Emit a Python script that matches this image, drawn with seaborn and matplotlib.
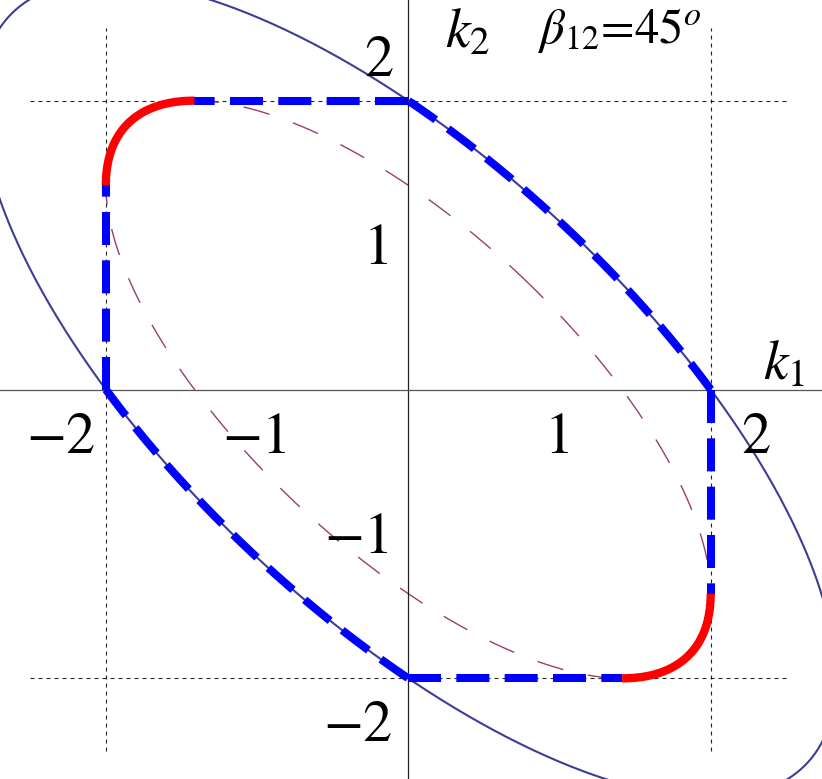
import numpy as np
import matplotlib
matplotlib.use("Agg")
import matplotlib.pyplot as plt
import seaborn as sns

# --- curve parameters ---
beta_deg = 45                      # angle beta_12 in degrees
k_max = 2.0                        # limits |k1| = |k2| = 2 (dashed guide lines)
guide_extent = 2.5                 # guide lines drawn between -2.5 and 2.5

tick_values = [-2, -1, 1, 2]
tick_labels = ["\u22122", "\u22121", "1", "2"]

c_beta = np.cos(np.radians(beta_deg))
s_beta = np.sin(np.radians(beta_deg))
r2_outer = k_max ** 2                  # k1^2 + k2^2 + 2 cos(b) k1 k2 = 4
r2_inner = (k_max * s_beta) ** 2       # ellipse tangent to the square |k| = 2


def ellipse(r2, theta):
    u = np.sqrt(r2 / (1 + c_beta)) * np.cos(theta)
    v = np.sqrt(r2 / (1 - c_beta)) * np.sin(theta)
    return (u + v) / np.sqrt(2), (u - v) / np.sqrt(2)


def angle_of(r2, k1, k2):
    u = (k1 + k2) / np.sqrt(2)
    v = (k1 - k2) / np.sqrt(2)
    return np.arctan2(v / np.sqrt(r2 / (1 - c_beta)), u / np.sqrt(r2 / (1 + c_beta)))


def arc(r2, p0, p1, n=200):
    a0 = angle_of(r2, *p0)
    a1 = angle_of(r2, *p1)
    d = (a1 - a0 + np.pi) % (2 * np.pi) - np.pi
    return ellipse(r2, np.linspace(a0, a0 + d, n))


def draw(ax, x, y, **kw):
    sns.lineplot(x=np.asarray(x), y=np.asarray(y), sort=False, estimator=None, ax=ax, **kw)


sns.set_style("white")
plt.rcParams["font.family"] = ["STIXGeneral", "DejaVu Serif"]
plt.rcParams["mathtext.fontset"] = "stix"
plt.rcParams["text.color"] = "black"

fig = plt.figure(figsize=(8.22, 7.79), dpi=100)
ax = fig.add_axes([0, 0, 1, 1])

# dashed guide lines at k1 = +-2 and k2 = +-2
for s in (-1, 1):
    ax.plot([s * k_max, s * k_max], [-guide_extent, guide_extent], color="#222222",
            lw=0.8, ls=(0, (3.6, 3.6)), zorder=1)
    ax.plot([-guide_extent, guide_extent], [s * k_max, s * k_max], color="#222222",
            lw=0.8, ls=(0, (3.6, 3.6)), zorder=1)

# full ellipses
th = np.linspace(0, 2 * np.pi, 800)
xo, yo = ellipse(r2_outer, th)
draw(ax, xo, yo, color="#3d3d99", lw=1.5, zorder=2)
xi, yi = ellipse(r2_inner, th)
draw(ax, xi, yi, color="#993d71", lw=1.0, linestyle=(0, (19.5, 18)), zorder=2)

# boundary: straight parts and outer-ellipse parts in blue dashes
blue_kw = dict(color="#0000ff", lw=5.8, linestyle=(0, (4.1, 1.9)), zorder=3)
t = k_max * c_beta
for s in (1, -1):
    draw(ax, [s * k_max, s * k_max], [0, -s * t], **blue_kw)
    draw(ax, [0, s * t], [-s * k_max, -s * k_max], **blue_kw)
    ax_, ay_ = arc(r2_outer, (s * k_max, 0), (0, s * k_max))
    draw(ax, ax_, ay_, **blue_kw)
    # rounded corners from the inner ellipse in red
    rx, ry = arc(r2_inner, (s * k_max, -s * t), (s * t, -s * k_max))
    draw(ax, rx, ry, color="#ff0000", lw=6.0, zorder=3, solid_capstyle="butt")

ax.set_xlim(-2.700, 2.736)
ax.set_ylim(-2.697, 2.697)

# axes through the origin
for side in ("top", "right"):
    ax.spines[side].set_visible(False)
ax.spines["left"].set_position(("data", 0))
ax.spines["bottom"].set_position(("data", 0))
ax.spines["left"].set_color("#222222")
ax.spines["bottom"].set_color("#555555")
ax.spines["left"].set_linewidth(0.9)
ax.spines["bottom"].set_linewidth(0.9)
ax.set_xticks(tick_values)
ax.set_yticks(tick_values)
ax.set_xticklabels([])
ax.set_yticklabels([])
ax.tick_params(axis="x", direction="in", length=7.2, width=0.8, color="#444444")
ax.tick_params(axis="y", direction="in", length=8.6, width=0.8, color="#444444")
ax.patch.set_alpha(0)

# tick labels (the +-2 labels sit a little outside the tick)
for v, lab in zip(tick_values, tick_labels):
    pos = v * 1.15 if abs(v) == 2 else v
    ax.annotate(lab, xy=(pos, 0), xytext=(0, -45.7), textcoords="offset points",
                ha="center", va="baseline", fontsize=42, color="black")
    ax.annotate(lab, xy=(0, pos), xytext=(-11, -13.7), textcoords="offset points",
                ha="right", va="baseline", fontsize=42, color="black")

ax.text(2.346, 0.066, r"$k_1$", fontsize=40, ha="left", va="baseline", color="black")
ax.text(0.243, 2.365, r"$k_2$", fontsize=40, ha="left", va="baseline", color="black")
ax.text(0.86, 2.40, r"$\beta_{12}$=45$^o$", fontsize=35, ha="left", va="baseline",
        color="black")

fig.savefig("out.png", dpi=100)
